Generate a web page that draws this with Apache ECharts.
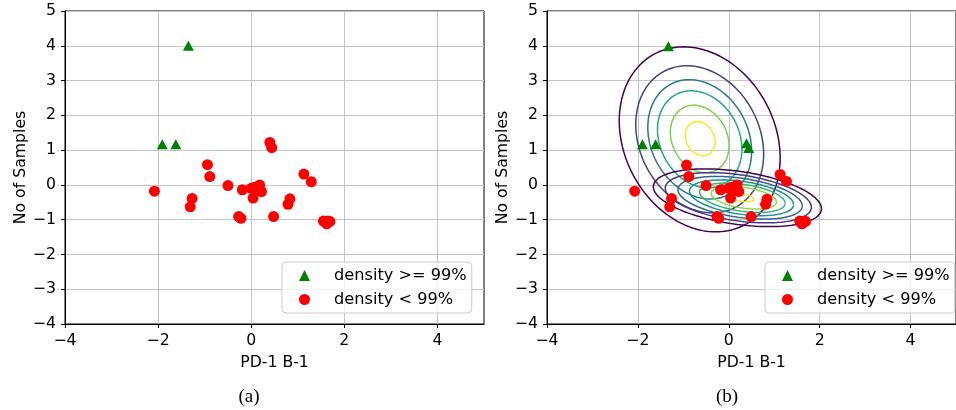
<!DOCTYPE html>
<html><head><meta charset="utf-8">
<script src="https://cdn.jsdelivr.net/npm/echarts@6/dist/echarts.min.js"></script>
<style>html,body{margin:0;padding:0;background:#fff}#c{width:956px;height:410px}</style>
</head><body><div id="c"></div>
<script>
// ---------- data ----------
const xTicks = [-4, -2, 0, 2, 4];
const yTicks = [-4, -3, -2, -1, 0, 1, 2, 3, 4, 5];
const seriesNames = ['density >= 99%', 'density < 99%'];
const captions = ['(a)', '(b)'];
const xAxisTitle = 'PD-1 B-1';
const yAxisTitle = 'No of Samples';

// panel (a)
const leftHigh = [[-1.35, 4.00], [-1.91, 1.17], [-1.62, 1.17]];
const leftLow = [[0.40, 1.22], [0.44, 1.07], [-0.94, 0.58], [-0.89, 0.24], [-2.08, -0.18],
  [-1.27, -0.39], [-1.31, -0.63], [-0.50, -0.02], [-0.19, -0.14], [0.00, -0.10], [0.18, 0.00],
  [0.22, -0.19], [0.04, -0.38], [0.11, -0.14], [0.07, -0.07], [1.13, 0.31], [1.29, 0.09],
  [0.83, -0.40], [0.79, -0.56], [-0.27, -0.91], [-0.22, -0.96], [0.48, -0.91], [1.55, -1.04],
  [1.65, -1.04], [1.62, -1.12], [1.69, -1.05]];

// panel (b)
const rightHigh = [[-1.33, 3.99], [-1.90, 1.17], [-1.61, 1.17], [0.39, 1.20], [0.44, 1.06]];
const rightLow = [[-0.93, 0.57], [-0.88, 0.24], [-2.07, -0.18], [-1.26, -0.39], [-1.30, -0.63],
  [-0.50, -0.02], [-0.18, -0.14], [0.00, -0.10], [0.18, 0.00], [0.22, -0.19], [0.04, -0.38],
  [0.11, -0.14], [0.07, -0.07], [1.13, 0.30], [1.27, 0.10], [0.84, -0.41], [0.81, -0.56],
  [-0.26, -0.91], [-0.22, -0.96], [0.49, -0.91], [1.56, -1.04], [1.66, -1.04], [1.61, -1.12],
  [1.69, -1.05]];

// density contours of panel (b): centre, spread, correlation and ring scale of each level
const upperCenterX = [-0.64, -0.64, -0.64, -0.64, -0.64, -0.63];
const upperCenterY = [1.31, 1.31, 1.31, 1.31, 1.32, 1.33];
const upperSpread = [1.77, 2.66];
const upperCorr = -0.2;
const upperLevels = [1.0, 0.795, 0.645, 0.525, 0.365, 0.185];
const upperColors = ['#440154', '#414487', '#2a788e', '#22a884', '#7ad151', '#fde725'];

const lowerCenterX = [0.19, 0.21, 0.25, 0.28, 0.30, 0.33, 0.30];
const lowerCenterY = [-0.37, -0.37, -0.37, -0.37, -0.37, -0.37, -0.37];
const lowerSpread = [1.85, 0.83];
const lowerCorr = -0.38;
const lowerLevels = [1.0, 0.87, 0.74, 0.62, 0.51, 0.39, 0.14];
const lowerColors = ['#440154', '#443983', '#31688e', '#21918c', '#35b779', '#90d743', '#fde725'];

// ---------- build ----------
function ring(cx, cy, spread, rho, r) {
  const pts = [], n = 160, k = Math.sqrt(1 - rho * rho);
  for (let i = 0; i <= n; i++) {
    const t = 2 * Math.PI * i / n, u = Math.cos(t), v = Math.sin(t);
    pts.push([cx + r * spread[0] * u, cy + r * spread[1] * (rho * u + k * v)]);
  }
  return pts;
}
const fmt = v => (v < 0 ? '\u2212' + (-v) : String(v));
const FONT = 'DejaVu Sans';
const FS = 15.7;
const LFS = 16.2;

function makeX(gi) {
  return {
    type: 'value', gridIndex: gi, min: -4, max: 5, interval: 2,
    name: xAxisTitle, nameLocation: 'middle', nameGap: 31,
    nameTextStyle: { color: '#000', fontSize: FS, fontFamily: FONT },
    axisLine: { show: true, onZero: false, lineStyle: { color: '#000', width: 1 } },
    axisTick: { show: true, length: 4, lineStyle: { color: '#000' }, customValues: xTicks },
    axisLabel: { color: '#000', fontSize: FS, fontFamily: FONT, margin: 9, formatter: fmt, customValues: xTicks },
    splitLine: { show: true, lineStyle: { color: '#c4c4c4', width: 1 } }
  };
}
function makeY(gi) {
  return {
    type: 'value', gridIndex: gi, min: -4, max: 5, interval: 1,
    name: yAxisTitle, nameLocation: 'middle', nameGap: 30, nameRotate: 90,
    nameTextStyle: { color: '#000', fontSize: FS, fontFamily: FONT },
    axisLine: { show: true, onZero: false, lineStyle: { color: '#000', width: 1 } },
    axisTick: { show: true, length: 4, lineStyle: { color: '#000' }, customValues: yTicks },
    axisLabel: { color: '#000', fontSize: FS, fontFamily: FONT, margin: 9, formatter: fmt, customValues: yTicks },
    splitLine: { show: true, lineStyle: { color: '#c4c4c4', width: 1 } }
  };
}
function scatter(name, data, gi, symbol, color, size) {
  return {
    type: 'scatter', name: name, xAxisIndex: gi, yAxisIndex: gi, data: data,
    symbol: symbol, symbolSize: size, itemStyle: { color: color, opacity: 1 },
    z: 5, silent: true, emphasis: { disabled: true }
  };
}
const series = [
  scatter(seriesNames[0], leftHigh, 0, 'triangle', '#008000', [11, 10]),
  scatter(seriesNames[1], leftLow, 0, 'circle', '#ff0000', 11)
];
upperLevels.forEach((r, i) => series.push({
  type: 'line', xAxisIndex: 1, yAxisIndex: 1, showSymbol: false, symbol: 'none', silent: true,
  data: ring(upperCenterX[i], upperCenterY[i], upperSpread, upperCorr, r),
  lineStyle: { color: upperColors[i], width: 1.5 }, z: 3
}));
lowerLevels.forEach((r, i) => series.push({
  type: 'line', xAxisIndex: 1, yAxisIndex: 1, showSymbol: false, symbol: 'none', silent: true,
  data: ring(lowerCenterX[i], lowerCenterY[i], lowerSpread, lowerCorr, r),
  lineStyle: { color: lowerColors[i], width: 1.5 }, z: 3
}));
series.push(scatter(seriesNames[0], rightHigh, 1, 'triangle', '#008000', [11, 10]));
series.push(scatter(seriesNames[1], rightLow, 1, 'circle', '#ff0000', 11));

function legend(left) {
  return {
    data: seriesNames, orient: 'vertical', left: left, top: 262,
    itemWidth: 11, itemHeight: 11, itemGap: 7, symbolKeepAspect: true,
    padding: [5, 5, 5, 17], backgroundColor: 'rgba(255,255,255,0.8)',
    borderColor: '#cccccc', borderWidth: 1, borderRadius: 4,
    textStyle: { color: '#000', fontSize: LFS, fontFamily: FONT, lineHeight: 17, padding: [0, 0, 0, 19] },
    selectedMode: false, z: 10
  };
}

const chart = echarts.init(document.getElementById('c'), null, { renderer: 'canvas' });
chart.setOption({
  animation: false,
  backgroundColor: '#fff',
  grid: [
    { left: 65, top: 11, width: 419, height: 313, show: true, borderColor: '#000', borderWidth: 1 },
    { left: 547, top: 11, width: 419, height: 313, show: true, borderColor: '#000', borderWidth: 1 }
  ],
  xAxis: [makeX(0), makeX(1)],
  yAxis: [makeY(0), makeY(1)],
  legend: [legend(282), legend(765)],
  series: series,
  graphic: [
    { type: 'text', style: { text: captions[0], x: 249, y: 397, textAlign: 'center', textVerticalAlign: 'middle', font: '19px "Liberation Serif"', fill: '#000' } },
    { type: 'text', style: { text: captions[1], x: 727, y: 397, textAlign: 'center', textVerticalAlign: 'middle', font: '19px "Liberation Serif"', fill: '#000' } }
  ]
});
</script></body></html>
